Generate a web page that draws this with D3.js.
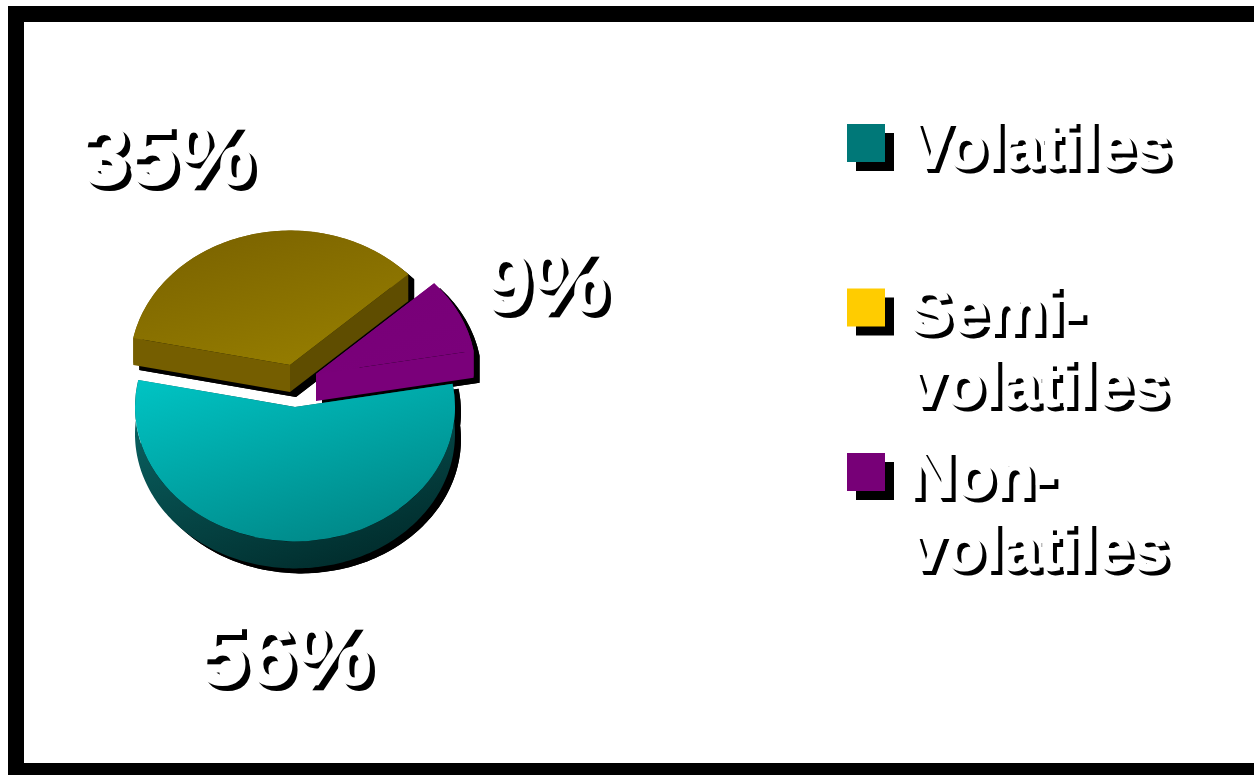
<!DOCTYPE html>
<html>
<head>
<meta charset="utf-8">
<script src="https://cdn.jsdelivr.net/npm/d3@7"></script>
<style>
  html, body { margin: 0; padding: 0; background: #fff; overflow: hidden; }
  svg { display: block; filter: blur(0.6px); }
  text { font-family: "Liberation Sans", Arial, sans-serif; font-weight: bold; }
</style>
</head>
<body>
<div id="app"></div>
<script>
const w = 1254;
const h = 775;

const categories = ["Volatiles", "Semi-volatiles", "Non-volatiles"];
const shares = [56, 35, 9];
const shareLabels = ["56%", "35%", "9%"];
const legendLines = [["Volatiles"], ["Semi-", "volatiles"], ["Non-", "volatiles"]];
const legendColors = ["#007878", "#ffcc00", "#770077"];

const radius = 160;
const squash = 0.84;
const depth = 27;
const shadowX = 6;
const shadowY = 5;
// start of the first slice, clockwise from twelve o'clock
const startAngle = 80 * Math.PI / 180;

// where each exploded slice has its apex
const apex = [[295, 407], [290, 365], [316, 374]];

const svg = d3.select('#app')
  .append('svg')
  .attr('width', w)
  .attr('height', h);

//////////GRADIENTS//////////

const defs = svg.append('defs');

const addGradient = (id, from, to) => {
  const g = defs.append('linearGradient')
    .attr('id', id)
    .attr('x1', 0).attr('y1', 0)
    .attr('x2', 0.6).attr('y2', 1);
  g.append('stop').attr('offset', 0).attr('stop-color', from);
  g.append('stop').attr('offset', 1).attr('stop-color', to);
};

addGradient('top0', '#00c4c4', '#008a8a');
addGradient('top1', '#786000', '#947c00');
addGradient('top2', '#770077', '#7a007a');
addGradient('wall0', '#0b6a6a', '#012e2e');

const topFill = ['url(#top0)', 'url(#top1)', 'url(#top2)'];
const wallFill = ['url(#wall0)', '#755e00', '#7a007a'];

//////////FRAME//////////

svg.append('rect')
  .attr('x', 16)
  .attr('y', 14)
  .attr('width', w + 40)
  .attr('height', 757)
  .attr('fill', '#fff')
  .attr('stroke', '#000')
  .attr('stroke-width', 16);

//////////PIE//////////

const pie = d3.pie()
  .sort(null)
  .startAngle(startAngle)
  .endAngle(startAngle + 2 * Math.PI);

const slices = pie(shares);
const arc = d3.arc().innerRadius(0).outerRadius(radius);
const line = d3.line();

const place = (i, dx, dy) =>
  `translate(${apex[i][0] + dx},${apex[i][1] + dy}) scale(1,${squash})`;

const rim = (i, angle, dx, dy) => [
  apex[i][0] + dx + radius * Math.sin(angle),
  apex[i][1] + dy - radius * squash * Math.cos(angle)
];

// outer band of a slice, between its top and bottom rim
const band = (i, d, dx, dy) => {
  const angles = d3.range(d.startAngle, d.endAngle, 0.02).concat(d.endAngle);
  const upper = angles.map((a) => rim(i, a, dx, dy));
  const lower = angles.map((a) => rim(i, a, dx, dy + depth)).reverse();
  return line(upper.concat(lower)) + 'Z';
};

// wall left by a radial cut at one angle
const cut = (i, angle, dx, dy) => line([
  [apex[i][0] + dx, apex[i][1] + dy],
  rim(i, angle, dx, dy),
  rim(i, angle, dx, dy + depth),
  [apex[i][0] + dx, apex[i][1] + dy + depth]
]) + 'Z';

// shadows go first so that no slice gets shaded by a neighbour
const shadowLayer = svg.append('g').attr('fill', '#000');

slices.forEach((d, i) => {
  shadowLayer.append('path').attr('d', arc(d)).attr('transform', place(i, shadowX, shadowY));
  shadowLayer.append('path').attr('d', arc(d)).attr('transform', place(i, shadowX, shadowY + depth));
  shadowLayer.append('path').attr('d', band(i, d, shadowX, shadowY));
  shadowLayer.append('path').attr('d', cut(i, d.startAngle, shadowX, shadowY));
  shadowLayer.append('path').attr('d', cut(i, d.endAngle, shadowX, shadowY));
});

const pieLayer = svg.append('g');

slices.forEach((d, i) => {
  pieLayer.append('path').attr('d', band(i, d, 0, 0)).attr('fill', wallFill[i]);
  pieLayer.append('path').attr('d', cut(i, d.startAngle, 0, 0)).attr('fill', wallFill[i]);
  // right hand cut of the brown slice is in shade
  pieLayer.append('path').attr('d', cut(i, d.endAngle, 0, 0))
    .attr('fill', i === 1 ? '#5f4d00' : wallFill[i]);
  pieLayer.append('path')
    .attr('d', arc(d))
    .attr('transform', place(i, 0, 0))
    .attr('fill', topFill[i]);
});

//////////LABELS//////////

const shaded = (x, y, str, size, off) => {
  svg.append('text')
    .attr('x', x)
    .attr('y', y)
    .attr('font-size', size)
    .attr('fill', '#fff')
    .attr('stroke', '#fff')
    .attr('stroke-width', 2)
    .style('filter', `drop-shadow(${off}px ${off}px 0 #000)`)
    .text(str);
};

const labelX = [199, 81, 483];
const labelY = [684, 184, 311];

shareLabels.forEach((t, i) => shaded(labelX[i], labelY[i], t, 86, 5));

//////////LEGEND//////////

const legendY = d3.scalePoint()
  .domain(categories)
  .range([124, 453]);

const legend = svg.append('g');

categories.forEach((c, i) => {
  const y = legendY(c);
  legend.append('rect')
    .attr('x', 856).attr('y', y + 9)
    .attr('width', 38).attr('height', 38)
    .attr('fill', '#000');
  legend.append('rect')
    .attr('x', 847).attr('y', y)
    .attr('width', 38).attr('height', 38)
    .attr('fill', legendColors[i]);
  legendLines[i].forEach((t, j) => {
    shaded(908, y + 44 + j * 73, t, 65, 4);
  });
});
</script>
</body>
</html>
